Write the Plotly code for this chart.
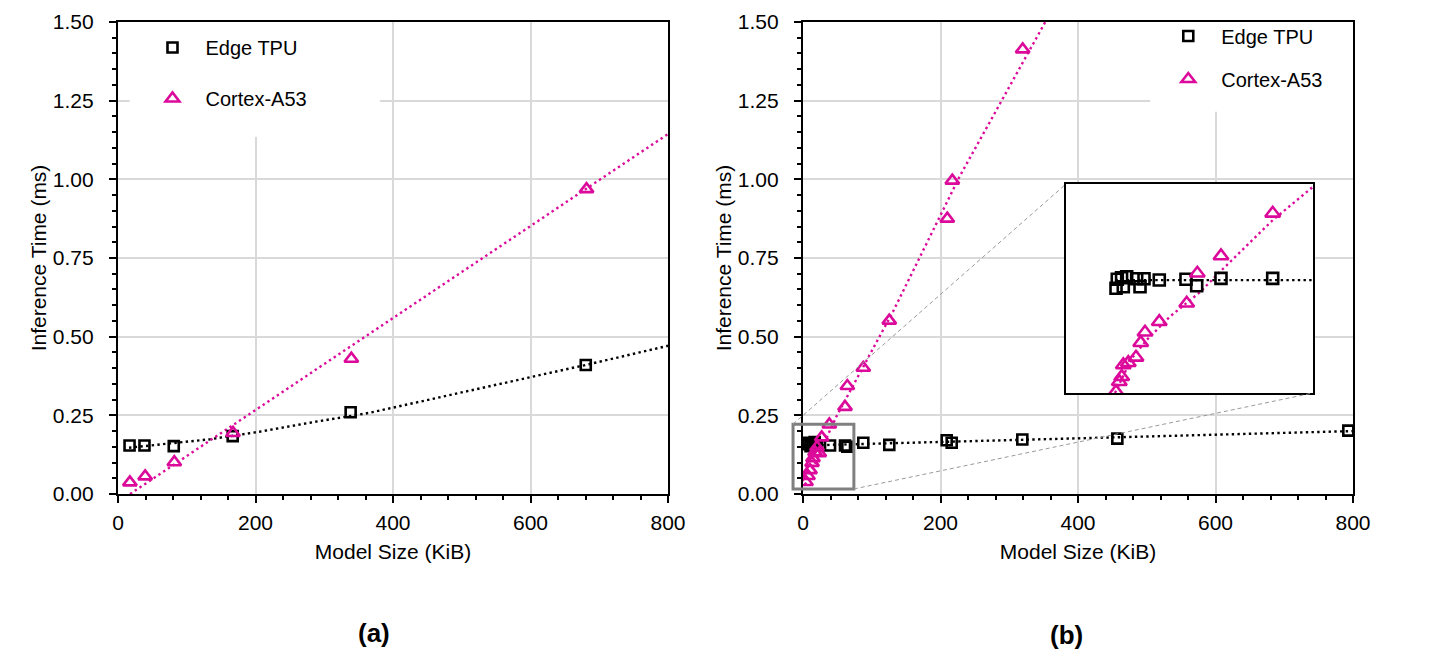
import plotly.graph_objects as go

# ---- data ----
# (a) few models
tpu_a_x = [16.8, 38.5, 81.1, 166.8, 338.4, 680.4]
tpu_a_y = [0.154, 0.154, 0.152, 0.184, 0.260, 0.410]
a53_a_x = [17.3, 39.5, 81.9, 167.3, 339.4, 681.5]
a53_a_y = [0.037, 0.056, 0.101, 0.194, 0.430, 0.969]
# trendlines (a)
tpu_a_fit_x = [16, 134, 206, 279, 366, 680, 800]
tpu_a_fit_y = [0.147, 0.174, 0.198, 0.2266, 0.258, 0.410, 0.471]
a53_a_fit_x = [17.5, 800]
a53_a_fit_y = [0.0, 1.144]

# (b) all models
tpu_b_x = [5, 8, 11, 14, 17, 20, 39.3, 61.1, 64.5, 87.7, 125.5, 209.0, 216.3, 319.0, 457.2, 793.2]
tpu_b_y = [0.158, 0.163, 0.152, 0.160, 0.165, 0.155, 0.154, 0.154, 0.150, 0.163, 0.156, 0.171,
           0.163, 0.173, 0.176, 0.2015]
a53_b_x = [4.4, 7.3, 10.2, 13.1, 14.5, 17.5, 20.4, 23.7, 27.2, 38.3, 61.1, 64.5, 87.7, 125.5,
           209.9, 217.2, 319.5]
a53_b_y = [0.038, 0.057, 0.076, 0.099, 0.114, 0.133, 0.149, 0.130, 0.180, 0.221, 0.277, 0.343,
           0.401, 0.551, 0.875, 0.996, 1.413]
tpu_b_fit_x = [2, 800]
tpu_b_fit_y = [0.154, 0.200]
a53_b_fit_x = [3, 49, 131, 228, 360]
a53_b_fit_y = [0.030, 0.248, 0.580, 1.010, 1.530]

# inset (small models, own scale)
ins_tpu_x = [12.15, 12.46, 13.5, 13.92, 14.74, 17.17, 17.98, 18.95, 22.66, 29.15, 31.75, 37.65, 50.21]
ins_tpu_y = [0.1503, 0.1632, 0.1655, 0.1526, 0.1669, 0.1641, 0.1526, 0.1641, 0.1622, 0.1632,
             0.1540, 0.1646, 0.1646]
ins_a53_x = [12.15, 12.95, 13.53, 13.92, 15.13, 17.0, 18.15, 19.19, 22.66, 29.32, 31.9, 37.65, 50.21]
ins_a53_y = [0.0019, 0.0162, 0.0234, 0.0402, 0.0435, 0.0512, 0.0722, 0.0871, 0.1023, 0.1288,
             0.1718, 0.1967, 0.2579]
ins_tpu_fit_x = [12, 60]
ins_tpu_fit_y = [0.162, 0.162]
ins_a53_fit_x = [11.9, 16, 19.6, 25.3, 32.6, 37.4, 50.2, 60]
ins_a53_fit_y = [0.0, 0.05, 0.076, 0.11, 0.145, 0.174, 0.248, 0.296]

# zoomed region marked in (b)
zoom_x = [-14.5, 74]
zoom_y = [0.016, 0.222]

BLACK = "black"
PINK = "#DC0A9B"
FONT = "Liberation Sans"

dom_a = [0.0, 0.44534]
dom_b = [0.55466, 1.0]
dom_ins_x = [0.76761, 0.96761]
dom_ins_y = [0.21398, 0.65678]

fig = go.Figure()


def fit_line(x, y, color, xa, ya):
    fig.add_trace(go.Scatter(x=x, y=y, mode="lines", xaxis=xa, yaxis=ya, showlegend=False,
                             line=dict(color=color, width=2.4, dash="2.4px,3.3px"),
                             hoverinfo="skip"))


def pts(x, y, name, symbol, color, size, xa, ya, legend=None):
    fig.add_trace(go.Scatter(x=x, y=y, mode="markers", name=name, xaxis=xa, yaxis=ya,
                             showlegend=legend is not None, legend=legend or "legend",
                             legendgroup=name,
                             marker=dict(symbol=symbol, size=size, color=color,
                                         line=dict(color=color, width=2.6))))


# panel (a)
fit_line(tpu_a_fit_x, tpu_a_fit_y, BLACK, "x", "y")
fit_line(a53_a_fit_x, a53_a_fit_y, PINK, "x", "y")
pts(tpu_a_x, tpu_a_y, "Edge TPU", "square-open", BLACK, 10, "x", "y", "legend")
pts(a53_a_x, a53_a_y, "Cortex-A53", "triangle-up-open", PINK, 12, "x", "y", "legend")

# panel (b)
fit_line(tpu_b_fit_x, tpu_b_fit_y, BLACK, "x2", "y2")
fit_line(a53_b_fit_x, a53_b_fit_y, PINK, "x2", "y2")
pts(tpu_b_x, tpu_b_y, "Edge TPU", "square-open", BLACK, 10, "x2", "y2", "legend2")
pts(a53_b_x, a53_b_y, "Cortex-A53", "triangle-up-open", PINK, 12, "x2", "y2", "legend2")

# inset
fit_line(ins_tpu_fit_x, ins_tpu_fit_y, BLACK, "x3", "y3")
fit_line(ins_a53_fit_x, ins_a53_fit_y, PINK, "x3", "y3")
pts(ins_tpu_x, ins_tpu_y, "Edge TPU", "square-open", BLACK, 11, "x3", "y3")
pts(ins_a53_x, ins_a53_y, "Cortex-A53", "triangle-up-open", PINK, 13, "x3", "y3")

xaxis_style = dict(
    range=[0, 800], tick0=0, dtick=200, showline=True, linecolor=BLACK, linewidth=2.2, mirror=True,
    ticks="outside", ticklen=7, tickwidth=1.6, tickcolor=BLACK, showgrid=True,
    gridcolor="#D9D9D9", gridwidth=2, zeroline=False, ticklabelstandoff=2,
    minor=dict(dtick=40, ticks="outside", ticklen=4, tickwidth=1.6, tickcolor=BLACK, showgrid=False),
    tickfont=dict(size=21, color=BLACK),
    title=dict(text="Model Size (KiB)", font=dict(size=21, color=BLACK), standoff=11),
)
yaxis_style = dict(
    range=[0, 1.5], tick0=0, dtick=0.25, tickformat=".2f", showline=True, linecolor=BLACK,
    linewidth=2.2, mirror=True, ticks="outside", ticklen=7, tickwidth=1.6, tickcolor=BLACK,
    showgrid=True, gridcolor="#D9D9D9", gridwidth=2, zeroline=False, ticklabelstandoff=11,
    minor=dict(dtick=0.05, ticks="outside", ticklen=4, tickwidth=1.6, tickcolor=BLACK, showgrid=False),
    tickfont=dict(size=21, color=BLACK),
    title=dict(text="Inference Time (ms)", font=dict(size=21, color=BLACK), standoff=0),
)
inset_axis = dict(showticklabels=False, ticks="", showgrid=False, zeroline=False, showline=True,
                  mirror=True, linecolor=BLACK, linewidth=2.2)

legend_style = dict(font=dict(size=20, color=BLACK, family=FONT), bgcolor="rgba(0,0,0,0)",
                    xanchor="left", yanchor="top", itemwidth=56, borderwidth=0)


def px_x(v, dom, rng):
    return dom[0] + (v - rng[0]) / (rng[1] - rng[0]) * (dom[1] - dom[0])


def px_y(v, rng):
    return (v - rng[0]) / (rng[1] - rng[0])


box = dict(x0=px_x(zoom_x[0], dom_b, [0, 800]), x1=px_x(zoom_x[1], dom_b, [0, 800]),
           y0=px_y(zoom_y[0], [0, 1.5]), y1=px_y(zoom_y[1], [0, 1.5]))

shapes = [
    # white areas behind legends (hide gridlines)
    dict(type="rect", xref="x", yref="y", x0=17, x1=381, y0=1.135, y1=1.5, layer="between",
         fillcolor="white", line=dict(width=0)),
    dict(type="rect", xref="x2", yref="y2", x0=505, x1=800, y0=1.215, y1=1.5, layer="between",
         fillcolor="white", line=dict(width=0)),
    # inset background
    dict(type="rect", xref="x3 domain", yref="y3 domain", x0=0, x1=1, y0=0, y1=1, layer="below",
         fillcolor="white", line=dict(width=0)),
    # zoom box and connectors
    dict(type="rect", xref="paper", yref="paper", **box, line=dict(color="#808080", width=3)),
    dict(type="line", xref="paper", yref="paper", x0=box["x0"], y0=box["y1"],
         x1=dom_ins_x[0], y1=dom_ins_y[1], line=dict(color="#9A9A9A", width=1, dash="4px,3px")),
    dict(type="line", xref="paper", yref="paper", x0=box["x1"], y0=box["y0"],
         x1=dom_ins_x[1], y1=dom_ins_y[0], line=dict(color="#9A9A9A", width=1, dash="4px,3px")),
]

fig.update_layout(
    width=1442, height=664,
    margin=dict(l=110, r=97, t=14, b=178, autoexpand=False),
    paper_bgcolor="white", plot_bgcolor="white",
    font=dict(family=FONT, color=BLACK),
    xaxis=dict(domain=dom_a, anchor="y", **xaxis_style),
    yaxis=dict(domain=[0, 1], anchor="x", **yaxis_style),
    xaxis2=dict(domain=dom_b, anchor="y2", **xaxis_style),
    yaxis2=dict(domain=[0, 1], anchor="x2", **yaxis_style),
    xaxis3=dict(domain=dom_ins_x, anchor="y3", range=[0, 60], **inset_axis),
    yaxis3=dict(domain=dom_ins_y, anchor="x3", range=[0, 0.3], **inset_axis),
    legend=dict(x=0.0174, y=0.9873, tracegroupgap=22, **legend_style),
    legend2=dict(x=0.8399, y=1.0115, tracegroupgap=14, **legend_style),
    shapes=shapes,
    annotations=[
        dict(text="<b>(a)</b>", xref="paper", yref="paper", x=0.20729, y=-0.29449,
             xanchor="center", yanchor="middle", showarrow=False, font=dict(size=26, color=BLACK)),
        dict(text="<b>(b)</b>", xref="paper", yref="paper", x=0.76818, y=-0.29873,
             xanchor="center", yanchor="middle", showarrow=False, font=dict(size=26, color=BLACK)),
    ],
    showlegend=True,
)

fig.write_html("out.html")
